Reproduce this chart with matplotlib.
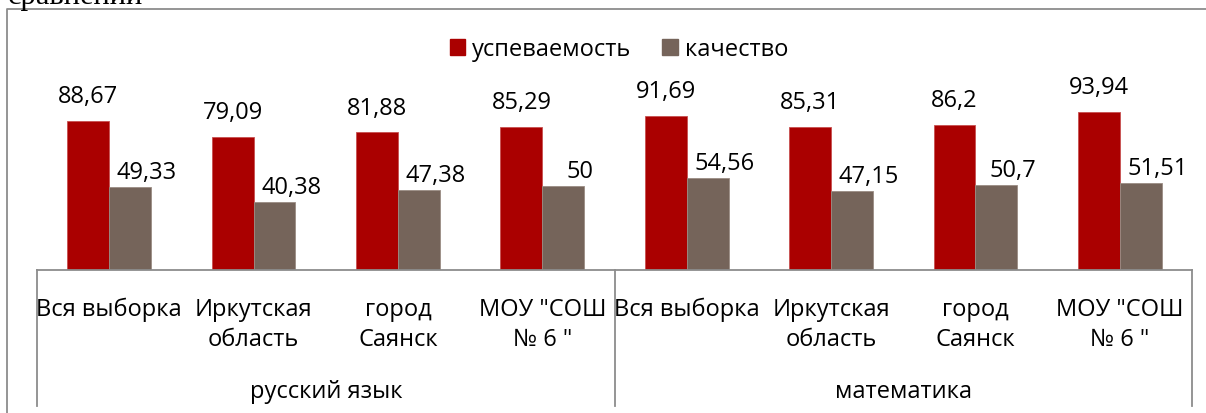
import matplotlib
matplotlib.use("Agg")
from matplotlib import pyplot as plt
from matplotlib.lines import Line2D
from matplotlib.patches import Patch


# data
subjects = ["русский язык", "математика"]
groups = ["Вся выборка", "Иркутская\nобласть", "город\nСаянск", "МОУ \"СОШ\n№ 6 \""]
uspev = [88.67, 79.09, 81.88, 85.29, 91.69, 85.31, 86.2, 93.94]
kachestvo = [49.33, 40.38, 47.38, 50, 54.56, 47.15, 50.7, 51.51]
series_names = ["успеваемость", "качество"]

RED = "#AA0000"
BROWN = "#75645A"
GRID = "#8C8C8C"

plt.rcParams['font.family'] = ['Open Sans', 'DejaVu Sans']

fig = plt.figure(figsize=(12.06, 4.14), dpi=100)
ax = fig.add_axes([37 / 1206, 143 / 414, 1155 / 1206, 168 / 414])

n = len(uspev)
x = list(range(n))
w = 0.29

bars1 = ax.bar([i - w / 2 for i in x], uspev, w, color=RED, edgecolor="#C85050", linewidth=0.6)
bars2 = ax.bar([i + w / 2 for i in x], kachestvo, w, color=BROWN, edgecolor="#9A8C84", linewidth=0.6)

ax.set_xlim(-0.5, n - 0.5)
ax.set_ylim(0, 100)
ax.set_xticks([])
ax.set_yticks([])
for s in ["top", "left", "right"]:
	ax.spines[s].set_visible(False)
ax.spines["bottom"].set_color(GRID)
ax.spines["bottom"].set_linewidth(1.3)


def fmt(v):
	return "{:g}".format(v).replace(".", ",")


# value labels
for b, v in zip(bars1, uspev):
	ax.annotate(fmt(v), (b.get_x() + b.get_width() / 2, v), xytext=(0, 13.5),
				textcoords="offset points", ha="center", va="baseline", fontsize=17)
for b, v in zip(bars2, kachestvo):
	ax.annotate(fmt(v), (b.get_x() + b.get_width() / 2, v), xytext=(12, 6.5),
				textcoords="offset points", ha="center", va="baseline", fontsize=17)

# category labels (two levels)
trans = ax.get_xaxis_transform()
for i in x:
	ax.annotate(groups[i % len(groups)], (i, 0), xycoords=trans, xytext=(0, -19.5),
				textcoords="offset points", ha="center", va="top", fontsize=17,
				multialignment="center", linespacing=1.35, annotation_clip=False)
for k, name in enumerate(subjects):
	c = k * len(groups) + (len(groups) - 1) / 2
	ax.annotate(name, (c, 0), xycoords=trans, xytext=(0, -91.5),
				textcoords="offset points", ha="center", va="baseline", fontsize=17,
				annotation_clip=False)

# separators between the outer categories
for k in range(len(subjects) + 1):
	xs = k * len(groups) - 0.5
	ax.plot([xs, xs], [0, -136 / 168], transform=trans, color=GRID, lw=1.3, clip_on=False)

# legend
handles = [Patch(color=RED), Patch(color=BROWN)]
fig.legend(handles, series_names, loc="center", bbox_to_anchor=(619 / 1206, 364 / 414),
		   ncol=2, frameon=False, fontsize=17, handlelength=0.65, handleheight=0.65,
		   handletextpad=0.3, columnspacing=1.3)

# chart frame and the cut-off text above it
fig.add_artist(Line2D([7 / 1206, 7 / 1206, 1.0], [0.0, 404 / 414, 404 / 414],
					  transform=fig.transFigure, color=GRID, lw=1.3))
fig.text(8 / 1206, 410 / 414, "сравнений", family="Liberation Serif", fontsize=22, va="baseline")

fig.savefig("out.png", dpi=100)
